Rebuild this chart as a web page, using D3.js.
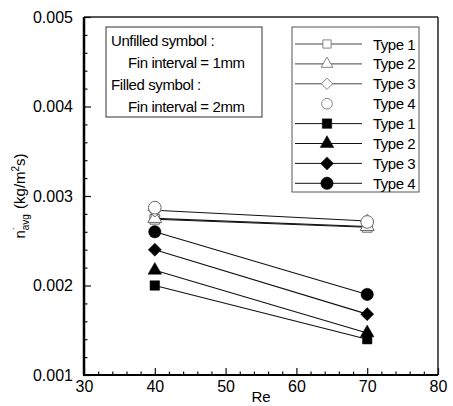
<!DOCTYPE html>
<html>
<head>
<meta charset="utf-8">
<script src="https://cdn.jsdelivr.net/npm/d3@7"></script>
<style>
  body { margin: 0; background: #fff; }
  text { font-family: "Liberation Sans", Arial, sans-serif; fill: #000; }
</style>
</head>
<body>
<svg id="chart" width="453" height="406"></svg>
<script>
// Re values and series (avg mass transfer, kg/m2s)
const reValues = [40, 70];
const seriesNames = ["Type 1", "Type 2", "Type 3", "Type 4"];
const symbolKinds = ["square", "triangle", "diamond", "circle"];
// fin interval 1mm (unfilled)
const unfilled1 = [0.00274, 0.00265];
const unfilled2 = [0.00275, 0.00266];
const unfilled3 = [0.00284, 0.00272];
const unfilled4 = [0.00287, 0.00271];
// fin interval 2mm (filled)
const filled1 = [0.00200, 0.00140];
const filled2 = [0.00217, 0.00147];
const filled3 = [0.00240, 0.00168];
const filled4 = [0.00260, 0.00190];
const xTicks = [30, 40, 50, 60, 70, 80];
const yTicks = [0.001, 0.002, 0.003, 0.004, 0.005];
const noteLines = ["Unfilled symbol :", "Fin interval = 1mm", "Filled symbol :", "Fin interval = 2mm"];

const svg = d3.select("#chart");
const margin = {top: 17, right: 15, bottom: 31, left: 84};
const width = 453 - margin.left - margin.right,
  height = 406 - margin.top - margin.bottom;
const g = svg.append("g").attr("transform", `translate(${margin.left},${margin.top})`);

const x = d3.scaleLinear().domain([30, 80]).range([0, width]);
const y = d3.scaleLinear().domain([0.001, 0.005]).range([height, 0]);

// square rotated 45deg, wider than d3's own diamond
const squareDiamond = {
  draw(ctx, size) {
    const r = Math.sqrt(size / 2);
    ctx.moveTo(0, -r); ctx.lineTo(r, 0); ctx.lineTo(0, r); ctx.lineTo(-r, 0); ctx.closePath();
  }
};
const symbolTypes = {
  square: d3.symbolSquare, triangle: d3.symbolTriangle,
  diamond: squareDiamond, circle: d3.symbolCircle
};
const symbolSize = {square: 90, triangle: 80, diamond: 85, circle: 120};
const sym = (kind, scale = 1) => d3.symbol().type(symbolTypes[kind]).size(symbolSize[kind] * scale)();

const unfilled = [unfilled1, unfilled2, unfilled3, unfilled4];
const filled = [filled1, filled2, filled3, filled4];
const series = [];
unfilled.forEach((vals, i) => series.push({name: seriesNames[i], kind: symbolKinds[i], filled: false, line: i < 3,
  pts: reValues.map((r, j) => ({re: r, v: vals[j]}))}));
filled.forEach((vals, i) => series.push({name: seriesNames[i], kind: symbolKinds[i], filled: true, line: true,
  pts: reValues.map((r, j) => ({re: r, v: vals[j]}))}));

// frame (top and right thin)
g.append("line").attr("x1", 0).attr("x2", width).attr("y1", 0).attr("y2", 0)
  .attr("stroke", "#222").attr("stroke-width", 1.3);
g.append("line").attr("x1", width).attr("x2", width).attr("y1", 0).attr("y2", height)
  .attr("stroke", "#222").attr("stroke-width", 1.5);

// axes with inward ticks
const xAxis = g.append("g").attr("transform", `translate(0,${height})`)
  .call(d3.axisBottom(x).tickValues(xTicks).tickSize(-7).tickPadding(8).tickFormat(d3.format("d")));
const xMinor = g.append("g").attr("transform", `translate(0,${height})`)
  .call(d3.axisBottom(x).tickValues(d3.range(32, 80, 2).filter(d => d % 10)).tickSize(-3.5).tickFormat(""));
const yAxis = g.append("g")
  .call(d3.axisLeft(y).tickValues(yTicks).tickSize(-7).tickPadding(11).tickFormat(d3.format(".3f")));
const yMinor = g.append("g")
  .call(d3.axisLeft(y).tickValues(d3.range(0.0012, 0.005, 0.0002).filter(d => Math.abs(Math.round(d * 1000) - d * 1000) > 1e-6)).tickSize(-3.5).tickFormat(""));
[xAxis, xMinor, yAxis, yMinor].forEach(a => {
  a.select(".domain").remove();
  a.selectAll("line").attr("stroke", "#111").attr("stroke-width", 1.2);
  a.selectAll("text").attr("fill", "#000").style("font-size", "16px").style("font-family", "Liberation Sans, Arial, sans-serif");
});
xAxis.selectAll("text").attr("dy", "0.55em");
g.append("line").attr("x1", 0).attr("x2", 0).attr("y1", 0).attr("y2", height)
  .attr("stroke", "#000").attr("stroke-width", 2.5);
g.append("line").attr("x1", -1).attr("x2", width).attr("y1", height).attr("y2", height)
  .attr("stroke", "#000").attr("stroke-width", 2.2);

// axis titles
g.append("text").attr("x", x(55)).attr("y", height + 27)
  .attr("text-anchor", "middle").style("font-size", "15px").text("Re");
const yl = g.append("text").attr("transform", `translate(-59,${height / 2}) rotate(-90)`)
  .attr("text-anchor", "middle").style("font-size", "15px");
yl.append("tspan").text("n");
yl.append("tspan").attr("dy", 4).style("font-size", "10px").text("avg");
yl.append("tspan").attr("dy", -13).attr("dx", -16).style("font-size", "9px").text("\u00b7");
yl.append("tspan").attr("dy", 9).attr("dx", 14).text(" (kg/m");
yl.append("tspan").attr("dy", -6).style("font-size", "10px").text("2");
yl.append("tspan").attr("dy", 6).text("s)");

// data lines
const line = d3.line().x(d => x(d.re)).y(d => y(d.v));
g.selectAll("path.series").data(series.filter(s => s.line)).enter()
  .append("path").attr("class", "series")
  .attr("d", d => line(d.pts))
  .attr("fill", "none").attr("stroke", "#111").attr("stroke-width", 1.1);

// markers
series.forEach(s => {
  g.selectAll(null).data(s.pts).enter().append("path")
    .attr("transform", d => `translate(${x(d.re)},${y(d.v)})`)
    .attr("d", sym(s.kind, s.filled ? 1 : 1.05))
    .attr("fill", s.filled ? "#000" : "#fff")
    .attr("stroke", s.filled ? "#000" : "#666")
    .attr("stroke-width", s.filled ? 0.5 : 1);
});

// note box
const note = g.append("g").attr("transform", "translate(22,10)");
note.append("rect").attr("width", 156).attr("height", 90)
  .attr("fill", "#fff").attr("stroke", "#333").attr("stroke-width", 1);
note.selectAll("text").data(noteLines).enter().append("text")
  .attr("x", (d, i) => i % 2 ? 22 : 5)
  .attr("y", (d, i) => 19 + i * 22)
  .style("font-size", "15px").style("letter-spacing", "-0.4px")
  .text(d => d);

// legend
const leg = g.append("g").attr("transform", "translate(208,10)");
leg.append("rect").attr("width", 127).attr("height", 165)
  .attr("fill", "#fff").attr("stroke", "#555").attr("stroke-width", 1);
const rows = leg.selectAll("g.row").data(series).enter().append("g")
  .attr("class", "row").attr("transform", (d, i) => `translate(0,${17 + i * 19.9})`);
rows.filter(d => d.line).append("line").attr("x1", 3).attr("x2", 70).attr("y1", 0).attr("y2", 0)
  .attr("stroke", d => d.filled ? "#111" : "#444").attr("stroke-width", 1);
rows.append("path").attr("transform", "translate(35,0)")
  .attr("d", d => sym(d.kind, d.filled ? 1 : 0.75))
  .attr("fill", d => d.filled ? "#000" : "#fff")
  .attr("stroke", d => d.filled ? "#000" : "#777").attr("stroke-width", d => d.filled ? 0.5 : 0.9);
rows.append("text").attr("x", 81).attr("y", 5.5)
  .style("font-size", "15px").style("letter-spacing", "-0.5px").text(d => d.name);
</script>
</body>
</html>
